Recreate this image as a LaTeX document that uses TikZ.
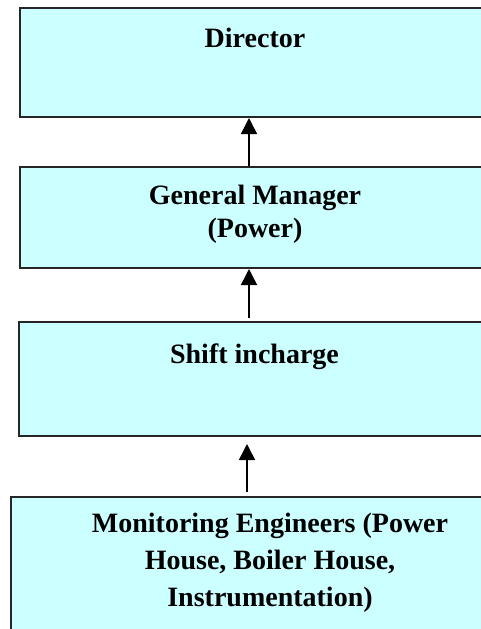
\documentclass[tikz,border=0pt]{standalone}
\usepackage{fontspec}
\setmainfont{Liberation Serif}
\usetikzlibrary{arrows, arrows.meta, calc}
\definecolor{boxcyan}{HTML}{CCFFFF}

\tikzset{
  post/.style={draw=black!85, line width=2pt, fill=boxcyan, inner sep=0pt},
  posttext/.style={anchor=base, align=center, inner sep=0pt, font=\fontsize{28}{33}\selectfont\bfseries},
  upline/.style={line width=1.5pt, -{Triangle[length=16pt,width=16pt]}}
}

\begin{document}
\begin{tikzpicture}[x=1pt,y=-1pt]
\useasboundingbox (0,0) rectangle (481,629);
\clip (0,0) rectangle (481,629);
%---------------------------------------------------
\node[post, minimum width=470pt, minimum height=109pt,
      label={[posttext, yshift=-40pt]north:Director}] (dir) at (255,62.5) {};
\node[post, minimum width=470pt, minimum height=101pt,
      label={[posttext, yshift=-71pt]north:General Manager\\(Power)}] (gm) at (255,217.5) {};
\node[post, minimum width=471pt, minimum height=114pt,
      label={[posttext, yshift=-42pt]north:Shift incharge}] (shift) at (254.5,379) {};
\node[post, minimum width=518pt, minimum height=153pt,
      label={[posttext, yshift=-110pt]north:Monitoring Engineers (Power\\[4pt]House, Boiler House,\\[4pt]Instrumentation)}] (mon) at (270,573.5) {};
%---------------------------------------------------
\draw[upline] ([xshift=-6pt]gm.north) -- ([xshift=-6pt]dir.south);
\draw[upline, shorten <=3pt] ([xshift=-5.5pt]shift.north) -- ([xshift=-6pt]gm.south);
\draw[upline, shorten <=4pt, shorten >=7pt] ([xshift=-23pt]mon.north) -- ([xshift=-23pt]mon.north |- shift.south);
\end{tikzpicture}
\end{document}
